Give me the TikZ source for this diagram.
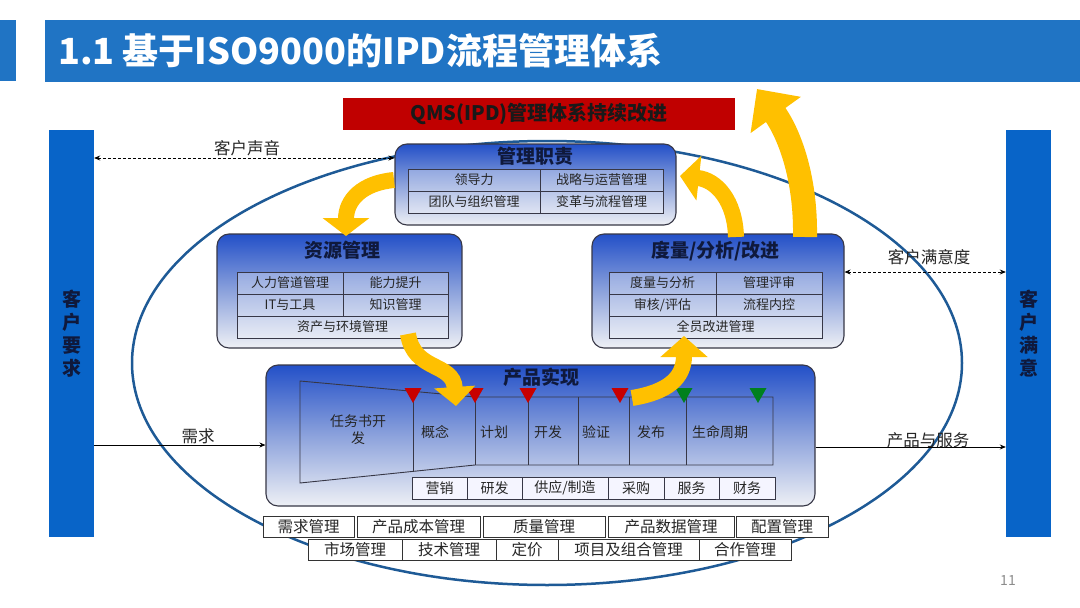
\documentclass[tikz,border=0pt]{standalone}
\usepackage{fontspec}
\setmainfont{Noto Sans CJK SC}
\usetikzlibrary{arrows.meta,calc}
\definecolor{titleblue}{RGB}{32,116,196}
\definecolor{barblue}{RGB}{8,100,200}
\definecolor{navy}{RGB}{15,25,60}
\definecolor{qmsred}{RGB}{192,0,0}
\definecolor{gold}{RGB}{255,192,0}
\definecolor{ellblue}{RGB}{30,90,150}
\definecolor{boxtop}{RGB}{35,80,200}
\definecolor{boxmid}{RGB}{140,162,220}
\definecolor{boxbot}{RGB}{238,240,245}
\definecolor{trired}{RGB}{200,0,0}
\definecolor{trigreen}{RGB}{0,128,30}
\definecolor{edgegray}{RGB}{55,55,70}
\newcommand\fsz[2]{\fontsize{#1}{#2}\selectfont}
\tikzset{
  pbox/.style={draw=edgegray, line width=1.1pt, rounded corners=12pt,
    top color=boxtop, bottom color=boxbot, middle color=boxmid, inner sep=0pt},
  ptitle/.style={font=\fsz{19}{22}\bfseries, text=navy, inner sep=0pt},
  cell/.style={draw=edgegray, line width=0.9pt, fill=white, fill opacity=0.3,
    text opacity=1, minimum height=22pt, inner sep=0pt, font=\fsz{13}{15}, text=black!85},
  pcell/.style={draw=edgegray, line width=0.9pt, fill=white!96!blue,
    minimum height=22pt, inner sep=0pt, font=\fsz{14}{16}, text=black!85},
  ocell/.style={draw=black!80, line width=0.9pt, fill=white,
    minimum height=21pt, inner sep=0pt, font=\fsz{15.5}{17}, text=black!85},
  stage/.style={font=\fsz{14}{17}, text=black!85, inner sep=0pt, align=center},
  sidebar/.style={fill=barblue, minimum width=45pt, minimum height=407pt, inner sep=0pt},
  bartext/.style={font=\fsz{19}{23}\bfseries, text=navy, align=center},
  lbl/.style={font=\fsz{16.5}{19}, text=black!85, inner sep=0pt},
  dasharrow/.style={densely dashed, line width=0.8pt, {Stealth[length=6pt,width=5pt]}-{Stealth[length=6pt,width=5pt]}},
  solidarrow/.style={line width=0.8pt, -{Stealth[length=6pt,width=5pt]}},
  yarr/.style={draw=gold, line width=#1pt}
}
\begin{document}
\begin{tikzpicture}[x=1pt,y=-1pt]
\useasboundingbox (0,0) rectangle (1080,608);
\fill[white] (0,0) rectangle (1080,608);

% title
\fill[titleblue] (0,20) rectangle (16,81);
\node[fill=titleblue, minimum width=1035pt, minimum height=62pt, inner sep=0pt] (titlebar) at (562.5,51) {};
\node[anchor=west, font=\fsz{36}{40}\bfseries, text=white, inner sep=0pt] (title) at (58,51) {1.1 基于ISO9000的IPD流程管理体系};

% QMS red box
\node[fill=qmsred, minimum width=392pt, minimum height=32pt, inner sep=0pt,
  font=\fsz{20}{22}\bfseries, text=black!90] (qms) at (539,114) {QMS(IPD)管理体系持续改进};

% ellipse
\draw[ellblue, line width=2.5pt] (547,363) ellipse [x radius=415, y radius=222];

% side bars
\node[sidebar] (lbar) at (71.5,333.5) {};
\node[bartext] at (lbar) {客\\户\\要\\求};
\node[sidebar] (rbar) at (1028.5,333.5) {};
\node[bartext] at (rbar) {客\\户\\满\\意};

% management box
\node[pbox, minimum width=281pt, minimum height=81pt] (mgmt) at (535.5,184.5) {};
\node[ptitle] (mgmtt) at (535.5,156) {管理职责};
\node[cell, minimum width=132pt] (m1) at (474,180) {领导力};
\node[cell, minimum width=123pt] (m2) at (601.5,180) {战略与运营管理};
\node[cell, minimum width=132pt] (m3) at (474,202) {团队与组织管理};
\node[cell, minimum width=123pt] (m4) at (601.5,202) {变革与流程管理};

% resource box
\node[pbox, minimum width=245pt, minimum height=114pt] (res) at (339.5,291) {};
\node[ptitle] (rest) at (342.5,250) {资源管理};
\node[cell, minimum width=106pt] (r1) at (290,283) {人力管道管理};
\node[cell, minimum width=105pt] (r2) at (395.5,283) {能力提升};
\node[cell, minimum width=106pt] (r3) at (290,305) {IT与工具};
\node[cell, minimum width=105pt] (r4) at (395.5,305) {知识管理};
\node[cell, minimum width=211pt] (r5) at (342.5,327) {资产与环境管理};

% measurement box
\node[pbox, minimum width=252pt, minimum height=114pt] (meas) at (718,291) {};
\node[ptitle] (meast) at (715.5,251) {度量/分析/改进};
\node[cell, minimum width=107pt] (d1) at (662.5,283) {度量与分析};
\node[cell, minimum width=106pt] (d2) at (769,283) {管理评审};
\node[cell, minimum width=107pt] (d3) at (662.5,305) {审核/评估};
\node[cell, minimum width=106pt] (d4) at (769,305) {流程内控};
\node[cell, minimum width=213pt] (d5) at (715.5,327) {全员改进管理};

% product box
\node[pbox, minimum width=549pt, minimum height=141pt] (prod) at (540.5,435.5) {};
\node[ptitle] (prodt) at (541,377) {产品实现};

% funnel
\draw[edgegray, line width=0.9pt] (300,381) -- (475,397) -- (773,397) -- (773,465) -- (475,465) -- (300,483) -- cycle;
\foreach \xa/\ya/\yb in {413/392/471, 475/397/465, 528/397/465, 578/397/465, 629/397/465, 686/397/465}
  \draw[edgegray, line width=0.9pt] (\xa,\ya) -- (\xa,\yb);
\node[stage] (s0) at (358,430) {任务书开\\发};
\node[stage] (s1) at (435,432) {概念};
\node[stage] (s2) at (494,432) {计划};
\node[stage] (s3) at (548,432) {开发};
\node[stage] (s4) at (596,432) {验证};
\node[stage] (s5) at (651,432) {发布};
\node[stage] (s6) at (720,432) {生命周期};
\foreach \xt in {413,475,528,620}
  \fill[trired] (\xt-8.5,388) -- (\xt+8.5,388) -- (\xt,403) -- cycle;
\foreach \xt in {684,758}
  \fill[trigreen] (\xt-8.5,388) -- (\xt+8.5,388) -- (\xt,403) -- cycle;

\node[pcell, minimum width=55pt] (p1) at (439.5,488) {营销};
\node[pcell, minimum width=55pt] (p2) at (494.5,488) {研发};
\node[pcell, minimum width=86pt] (p3) at (565,488) {供应/制造};
\node[pcell, minimum width=56pt] (p4) at (636,488) {采购};
\node[pcell, minimum width=55pt] (p5) at (691.5,488) {服务};
\node[pcell, minimum width=56pt] (p6) at (747,488) {财务};

% bottom rows
\node[ocell, minimum width=91pt] (o1) at (308.5,527) {需求管理};
\node[ocell, minimum width=123pt] (o2) at (418.5,527) {产品成本管理};
\node[ocell, minimum width=122pt] (o3) at (544,527) {质量管理};
\node[ocell, minimum width=126pt] (o4) at (671,527) {产品数据管理};
\node[ocell, minimum width=92pt] (o5) at (782,527) {配置管理};
\node[ocell, minimum width=94pt] (q1) at (355,550) {市场管理};
\node[ocell, minimum width=94pt] (q2) at (449,550) {技术管理};
\node[ocell, minimum width=62pt] (q3) at (527,550) {定价};
\node[ocell, minimum width=141pt] (q4) at (628.5,550) {项目及组合管理};
\node[ocell, minimum width=92pt] (q5) at (745,550) {合作管理};

% connectors to customers
\coordinate (yv) at (0,158);
\coordinate (ys) at (0,272);
\coordinate (yd) at (0,445);
\coordinate (yp) at (0,447);
\draw[dasharrow] (lbar.east |- yv) -- (mgmt.west |- yv);
\node[lbl] (lv) at (247,148) {客户声音};
\draw[dasharrow] (meas.east |- ys) -- (rbar.west |- ys);
\node[lbl] (ls) at (929,257) {客户满意度};
\draw[solidarrow] (lbar.east |- yd) -- (prod.west |- yd);
\node[lbl] (ld) at (198,436) {需求};
\draw[solidarrow] (prod.east |- yp) -- (rbar.west |- yp);
\node[lbl] (lp) at (928,440) {产品与服务};

% yellow improvement arrows
\coordinate (a1s) at (394,180);
\coordinate (a1e) at (346,236);
\draw[yarr=16, -{Triangle[width=46pt,length=18pt]}] (a1s) .. controls (362,183) and (346,200) .. (a1e);
\coordinate (a2s) at (408,334);
\coordinate (a2e) at (456,406);
\draw[yarr=16, -{Triangle[width=40pt,length=19pt]}] (a2s) .. controls (414,372) and (453,362) .. (a2e);
\coordinate (a3s) at (632,398);
\coordinate (a3e) at (684,336);
\draw[yarr=16, -{Triangle[width=46pt,length=21pt]}] (a3s) .. controls (668,392) and (684,378) .. (a3e);
\coordinate (a4s) at (736,237);
\coordinate (a4e) at (680,176);
\draw[yarr=16, -{Triangle[width=44pt,length=19pt]}] (a4s) .. controls (735,200) and (716,180) .. (a4e);
\coordinate (a5s) at (805,237);
\coordinate (a5e) at (757,89);
\draw[yarr=24, -{Triangle[width=60pt,length=32pt]}] (a5s) .. controls (806,175) and (788,132) .. (a5e);

% page number
\node[font=\fsz{14}{16}, text=black!45] (pg) at (1008,581) {11};
\end{tikzpicture}
\end{document}
